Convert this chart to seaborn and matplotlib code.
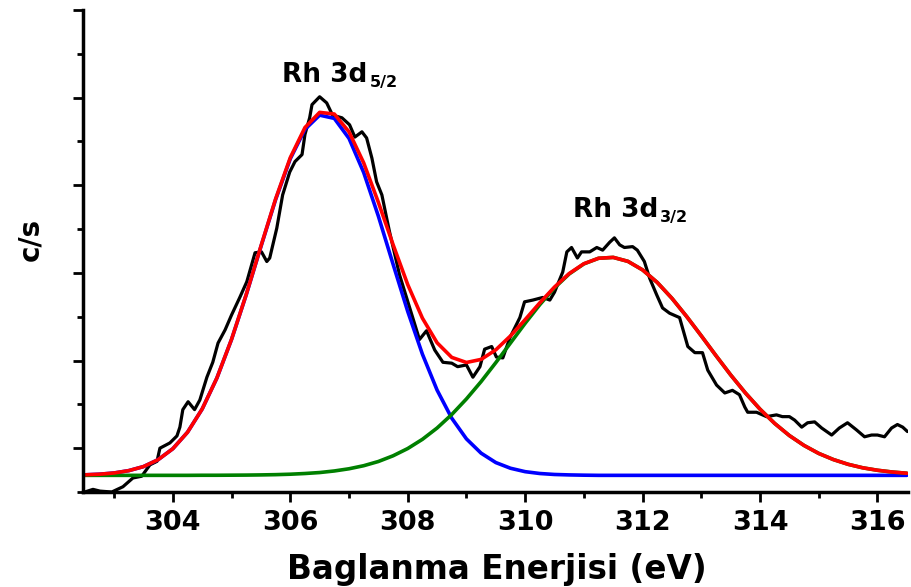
import matplotlib
matplotlib.use("Agg")
import matplotlib.pyplot as plt
import seaborn as sns
import numpy as np

# ---------------- data ----------------
# measured spectrum (black trace): binding energy (eV) and counts (arbitrary units)
energy_data = [302.50, 302.64, 302.76, 302.96, 303.15, 303.32, 303.47, 303.61, 303.73, 303.78,
               303.95, 304.07, 304.12, 304.17, 304.26, 304.37, 304.46, 304.58, 304.68, 304.77,
               304.89, 305.00, 305.14, 305.26, 305.40, 305.51, 305.60, 305.65, 305.77, 305.87,
               305.99, 306.08, 306.20, 306.25, 306.33, 306.37, 306.50, 306.62, 306.72, 306.88,
               307.01, 307.10, 307.22, 307.30, 307.39, 307.47, 307.56, 307.64, 307.69, 307.86,
               308.03, 308.20, 308.32, 308.46, 308.60, 308.75, 308.85, 309.00, 309.11, 309.23,
               309.31, 309.43, 309.51, 309.62, 309.74, 309.91, 309.99, 310.13, 310.30, 310.42,
               310.50, 310.64, 310.71, 310.79, 310.89, 310.96, 311.10, 311.22, 311.32, 311.44,
               311.52, 311.61, 311.69, 311.83, 311.91, 312.03, 312.12, 312.24, 312.34, 312.46,
               312.63, 312.77, 312.89, 313.02, 313.11, 313.26, 313.40, 313.53, 313.65, 313.74,
               313.79, 313.94, 314.11, 314.28, 314.38, 314.50, 314.59, 314.71, 314.81, 314.93,
               315.05, 315.22, 315.35, 315.49, 315.64, 315.78, 315.90, 316.00, 316.12, 316.24,
               316.34, 316.43, 316.51]
counts_data = [0.00, 0.03, 0.01, 0.00, 0.06, 0.16, 0.18, 0.31, 0.35, 0.50,
               0.56, 0.64, 0.74, 0.94, 1.03, 0.94, 1.05, 1.31, 1.48, 1.70,
               1.85, 2.02, 2.22, 2.40, 2.73, 2.74, 2.63, 2.67, 3.01, 3.39,
               3.65, 3.77, 3.85, 4.08, 4.27, 4.42, 4.51, 4.44, 4.30, 4.27,
               4.19, 4.05, 4.11, 4.04, 3.81, 3.54, 3.39, 3.13, 2.97, 2.48,
               2.11, 1.74, 1.84, 1.62, 1.48, 1.47, 1.43, 1.45, 1.31, 1.43,
               1.63, 1.66, 1.54, 1.53, 1.76, 1.99, 2.17, 2.19, 2.22, 2.19,
               2.28, 2.51, 2.74, 2.79, 2.67, 2.74, 2.74, 2.79, 2.76, 2.85,
               2.90, 2.82, 2.79, 2.80, 2.76, 2.63, 2.44, 2.25, 2.10, 2.04,
               1.99, 1.66, 1.59, 1.59, 1.39, 1.22, 1.13, 1.16, 1.11, 0.97,
               0.91, 0.91, 0.86, 0.88, 0.86, 0.86, 0.82, 0.74, 0.79, 0.80,
               0.73, 0.65, 0.73, 0.79, 0.71, 0.63, 0.65, 0.65, 0.63, 0.73,
               0.77, 0.74, 0.69]

# fitted curves sampled along the energy axis
fit_energy = [302.50, 302.75, 303.00, 303.25, 303.50, 303.75, 304.00, 304.25, 304.50, 304.75,
              305.00, 305.25, 305.50, 305.75, 306.00, 306.25, 306.50, 306.75, 307.00, 307.25,
              307.50, 307.75, 308.00, 308.25, 308.50, 308.75, 309.00, 309.25, 309.50, 309.75,
              310.00, 310.25, 310.50, 310.75, 311.00, 311.25, 311.50, 311.75, 312.00, 312.25,
              312.50, 312.75, 313.00, 313.25, 313.50, 313.75, 314.00, 314.25, 314.50, 314.75,
              315.00, 315.25, 315.50, 315.75, 316.00, 316.25, 316.50]
rh_5_2_fit = [0.196, 0.203, 0.217, 0.244, 0.290, 0.369, 0.494, 0.682, 0.947, 1.300,
              1.741, 2.251, 2.800, 3.336, 3.802, 4.138, 4.300, 4.263, 4.035, 3.646,
              3.148, 2.601, 2.061, 1.573, 1.163, 0.842, 0.606, 0.443, 0.336, 0.271,
              0.232, 0.211, 0.200, 0.195, 0.192, 0.190, 0.190, 0.190, 0.190, 0.190,
              0.190, 0.190, 0.190, 0.190, 0.190, 0.190, 0.190, 0.190, 0.190, 0.190,
              0.190, 0.190, 0.190, 0.190, 0.190, 0.190, 0.190]
rh_3_2_fit = [0.190, 0.190, 0.190, 0.190, 0.190, 0.190, 0.190, 0.190, 0.191, 0.191,
              0.192, 0.193, 0.195, 0.198, 0.203, 0.211, 0.222, 0.240, 0.265, 0.300,
              0.348, 0.413, 0.496, 0.601, 0.730, 0.884, 1.062, 1.260, 1.476, 1.700,
              1.925, 2.138, 2.329, 2.488, 2.603, 2.667, 2.677, 2.632, 2.534, 2.391,
              2.210, 2.003, 1.782, 1.556, 1.336, 1.131, 0.945, 0.782, 0.644, 0.531,
              0.440, 0.370, 0.316, 0.276, 0.248, 0.228, 0.214]
envelope_fit = [0.196, 0.203, 0.217, 0.244, 0.290, 0.369, 0.494, 0.682, 0.948, 1.301,
                1.743, 2.254, 2.805, 3.344, 3.815, 4.159, 4.332, 4.313, 4.110, 3.756,
                3.306, 2.824, 2.367, 1.984, 1.703, 1.536, 1.478, 1.513, 1.622, 1.781,
                1.967, 2.159, 2.339, 2.493, 2.605, 2.667, 2.677, 2.632, 2.534, 2.391,
                2.210, 2.003, 1.782, 1.556, 1.336, 1.131, 0.945, 0.782, 0.644, 0.531,
                0.440, 0.370, 0.316, 0.276, 0.248, 0.228, 0.214]

x_major_ticks = [304, 306, 308, 310, 312, 314, 316]
x_minor_ticks = [303, 305, 307, 309, 311, 313, 315]
y_major_ticks = [0.5, 1.5, 2.5, 3.5, 4.5, 5.5]
y_minor_ticks = [0, 1, 2, 3, 4, 5]

peak_main = ["Rh 3d", "Rh 3d"]
peak_sub = ["5/2", "3/2"]
peak_label_pos = [(305.86, 4.68), (310.81, 3.14)]

# ---------------- style ----------------
sns.set_style("ticks")
plt.rcParams["font.family"] = ["DejaVu Sans"]
plt.rcParams["font.weight"] = "bold"
plt.rcParams["text.color"] = "black"
plt.rcParams["axes.labelcolor"] = "black"
plt.rcParams["xtick.color"] = "black"
plt.rcParams["ytick.color"] = "black"

fig = plt.figure(figsize=(9.11, 5.87), dpi=100)
ax = fig.add_axes([83 / 911, 1 - 492 / 587, (908 - 83) / 911, (492 - 10) / 587])

sns.lineplot(x=energy_data, y=counts_data, ax=ax, color="black", linewidth=2.3,
             sort=False, estimator=None)
sns.lineplot(x=fit_energy, y=rh_5_2_fit, ax=ax, color="#0000FF", linewidth=2.6,
             sort=False, estimator=None)
sns.lineplot(x=fit_energy, y=rh_3_2_fit, ax=ax, color="#008000", linewidth=2.6,
             sort=False, estimator=None)
sns.lineplot(x=fit_energy, y=envelope_fit, ax=ax, color="#FF0000", linewidth=2.6,
             sort=False, estimator=None)

for main, sub, (lx, ly) in zip(peak_main, peak_sub, peak_label_pos):
    t = ax.text(lx, ly, main, fontsize=19, fontweight="bold", color="black",
                ha="left", va="baseline")
    ax.annotate(sub, xy=(1.0, 0.0), xycoords=t, xytext=(1.5, 0.5),
                textcoords="offset points", fontsize=11.5, fontweight="bold",
                color="black", ha="left", va="baseline")

ax.set_xlim(302.47, 316.52)
ax.set_ylim(0, 5.5)

ax.set_xticks(x_major_ticks)
ax.set_xticks(x_minor_ticks, minor=True)
ax.set_xticklabels([str(t) for t in x_major_ticks], fontsize=19.5, fontweight="bold",
                   color="black")
ax.set_yticks(y_major_ticks)
ax.set_yticks(y_minor_ticks, minor=True)
ax.set_yticklabels([])

ax.tick_params(axis="both", which="major", direction="out", length=7, width=2, pad=6,
               color="black", labelcolor="black")
ax.tick_params(axis="both", which="minor", direction="out", length=4.2, width=2,
               color="black")

sns.despine(ax=ax)
for side in ["left", "bottom"]:
    ax.spines[side].set_linewidth(2.5)
    ax.spines[side].set_color("black")

ax.set_xlabel("Baglanma Enerjisi (eV)", fontsize=23.5, fontweight="bold", color="black")
ax.set_ylabel("c/s", fontsize=20, fontweight="bold", color="black")
ax.xaxis.set_label_coords(0.502, -0.126)
ax.yaxis.set_label_coords(-0.047, 0.523)

fig.savefig("out.png", dpi=100)
